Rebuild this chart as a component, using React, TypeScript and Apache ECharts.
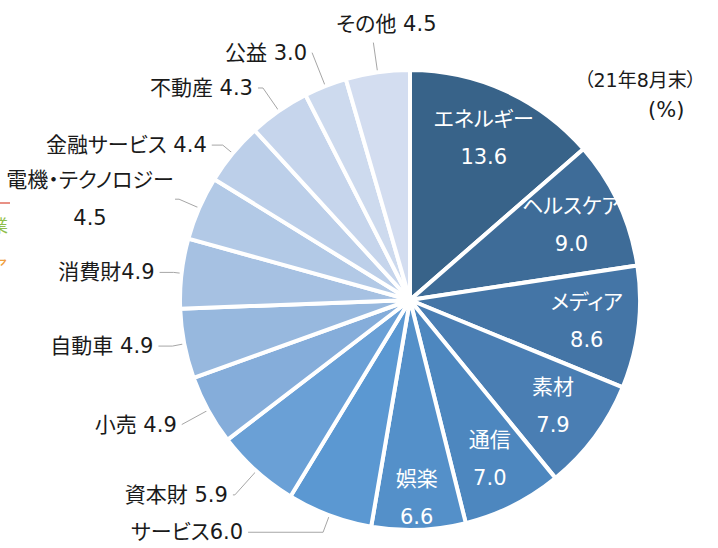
import React, { useEffect, useRef } from "react";
import * as echarts from "echarts";

const names = [
  "エネルギー", "ヘルスケア", "メディア", "素材", "通信", "娯楽",
  "サービス", "資本財", "小売", "自動車", "消費財", "電機・テクノロジー",
  "金融サービス", "不動産", "公益", "その他",
];
const values = [13.6, 9.0, 8.6, 7.9, 7.0, 6.6, 6.0, 5.9, 4.9, 4.9, 4.9, 4.5, 4.4, 4.3, 3.0, 4.5];
const colors = [
  "#386389", "#3E6C98", "#4475A6", "#4A7EB3", "#4D87BF", "#5490C9",
  "#5B98D2", "#6AA0D6", "#85ADDA", "#97B8DE", "#A6C1E2", "#B2C9E6",
  "#BCCFE9", "#C6D5EC", "#CDDAEE", "#D3DDF0",
];
// label placement: true = inside the slice
const labelInside = [true, true, true, true, true, true, false, false, false, false, false, false, false, false, false, false];
const labelSeparators = ["\n", "\n", "\n", "\n", "\n", "\n", "", " ", " ", " ", "", "\n", " ", " ", " ", " "];
// leader-line styling per slice (radial part, horizontal part)
const leaderLength = [0, 0, 0, 0, 0, 0, 18, 32, 30, 12, 8, 22, 13, 28, 36, 30];
const leaderLength2 = [0, 0, 0, 0, 0, 0, 75, 2, 0, 14, 14, 4, 11, 5, 0, 0];
const noteLines = ["（21年8月末）", "(%)"];

const FONT = "'DejaVu Sans', 'Noto Sans CJK JP', sans-serif";
const FS = 21;

export default function App() {
  const ref = useRef<HTMLDivElement>(null);
  useEffect(() => {
    if (!ref.current) return;
    const chart = echarts.init(ref.current, undefined, { renderer: "svg" });
    const center = [410, 300];
    const mainData = names.map((n, i) => ({
      name: n,
      value: values[i],
      itemStyle: { color: colors[i] },
      label: labelInside[i]
        ? { show: false }
        : { show: true, formatter: `${n}${labelSeparators[i]}${values[i].toFixed(1)}` },
      labelLine: { show: !labelInside[i], length: leaderLength[i], length2: leaderLength2[i] },
    }));
    const innerData = names.map((n, i) => ({
      name: n,
      value: values[i],
      label: labelInside[i]
        ? { show: true, formatter: `${n}${labelSeparators[i]}${values[i].toFixed(1)}` }
        : { show: false },
    }));
    chart.setOption({
      animation: false,
      series: [
        {
          type: "pie",
          center,
          radius: 230,
          startAngle: 90,
          clockwise: true,
          silent: true,
          avoidLabelOverlap: false,
          itemStyle: { borderColor: "#ffffff", borderWidth: 4 },
          label: {
            position: "outside",
            color: "#1a1a1a",
            fontSize: FS,
            fontFamily: FONT,
            lineHeight: 38,
            overflow: "none",
          },
          labelLine: {
            show: true,
            length: 12,
            length2: 10,
            lineStyle: { color: "#a6a6a6", width: 1 },
          },
          labelLayout: (p: any) => {
            const anchor = p.labelRect.x + p.labelRect.width;
            if (p.dataIndex === 15) {
              return { x: anchor + 18, align: "center", verticalAlign: "bottom", labelLinePoints: p.labelLinePoints };
            }
            if (p.dataIndex === 11) {
              return { x: anchor - 80, align: "center", labelLinePoints: p.labelLinePoints };
            }
            return {};
          },
          data: mainData,
        },
        {
          type: "pie",
          center,
          radius: [0, 350],
          startAngle: 90,
          clockwise: true,
          silent: true,
          itemStyle: { color: "transparent", borderWidth: 0 },
          label: {
            position: "inside",
            color: "#ffffff",
            fontSize: FS,
            fontFamily: FONT,
            lineHeight: 38,
            align: "center",
          },
          labelLine: { show: false },
          labelLayout: (p: any) =>
            p.dataIndex === 5
              ? { x: p.labelRect.x + p.labelRect.width / 2, y: p.labelRect.y + p.labelRect.height / 2 + 20 }
              : {},
          data: innerData,
        },
      ],
      graphic: [
        {
          type: "text",
          left: 584,
          top: 70,
          style: { text: noteLines[0], fontSize: 19, fontFamily: FONT, fill: "#1a1a1a" },
        },
        {
          type: "text",
          left: 648,
          top: 99,
          style: { text: noteLines[1], fontSize: 21, fontFamily: FONT, fill: "#1a1a1a" },
        },
        {
          type: "line",
          shape: { x1: 0, y1: 203, x2: 10, y2: 203 },
          style: { stroke: "#e06c5c", lineWidth: 1.5 },
        },
        {
          type: "text",
          x: -9,
          y: 217,
          style: { text: "業", fontSize: 17, fontFamily: FONT, fill: "#8fbf4a" },
        },
        {
          type: "text",
          x: -9,
          y: 257,
          style: { text: "ア", fontSize: 17, fontFamily: FONT, fill: "#f0a040" },
        },
      ],
    });
    return () => chart.dispose();
  }, []);
  return (
    <>
      <style>{"svg text { font-feature-settings: 'palt' 1; }"}</style>
      <div
        ref={ref}
        style={{ position: "fixed", left: 0, top: 0, width: 718, height: 548, background: "#ffffff" }}
      />
    </>
  );
}
